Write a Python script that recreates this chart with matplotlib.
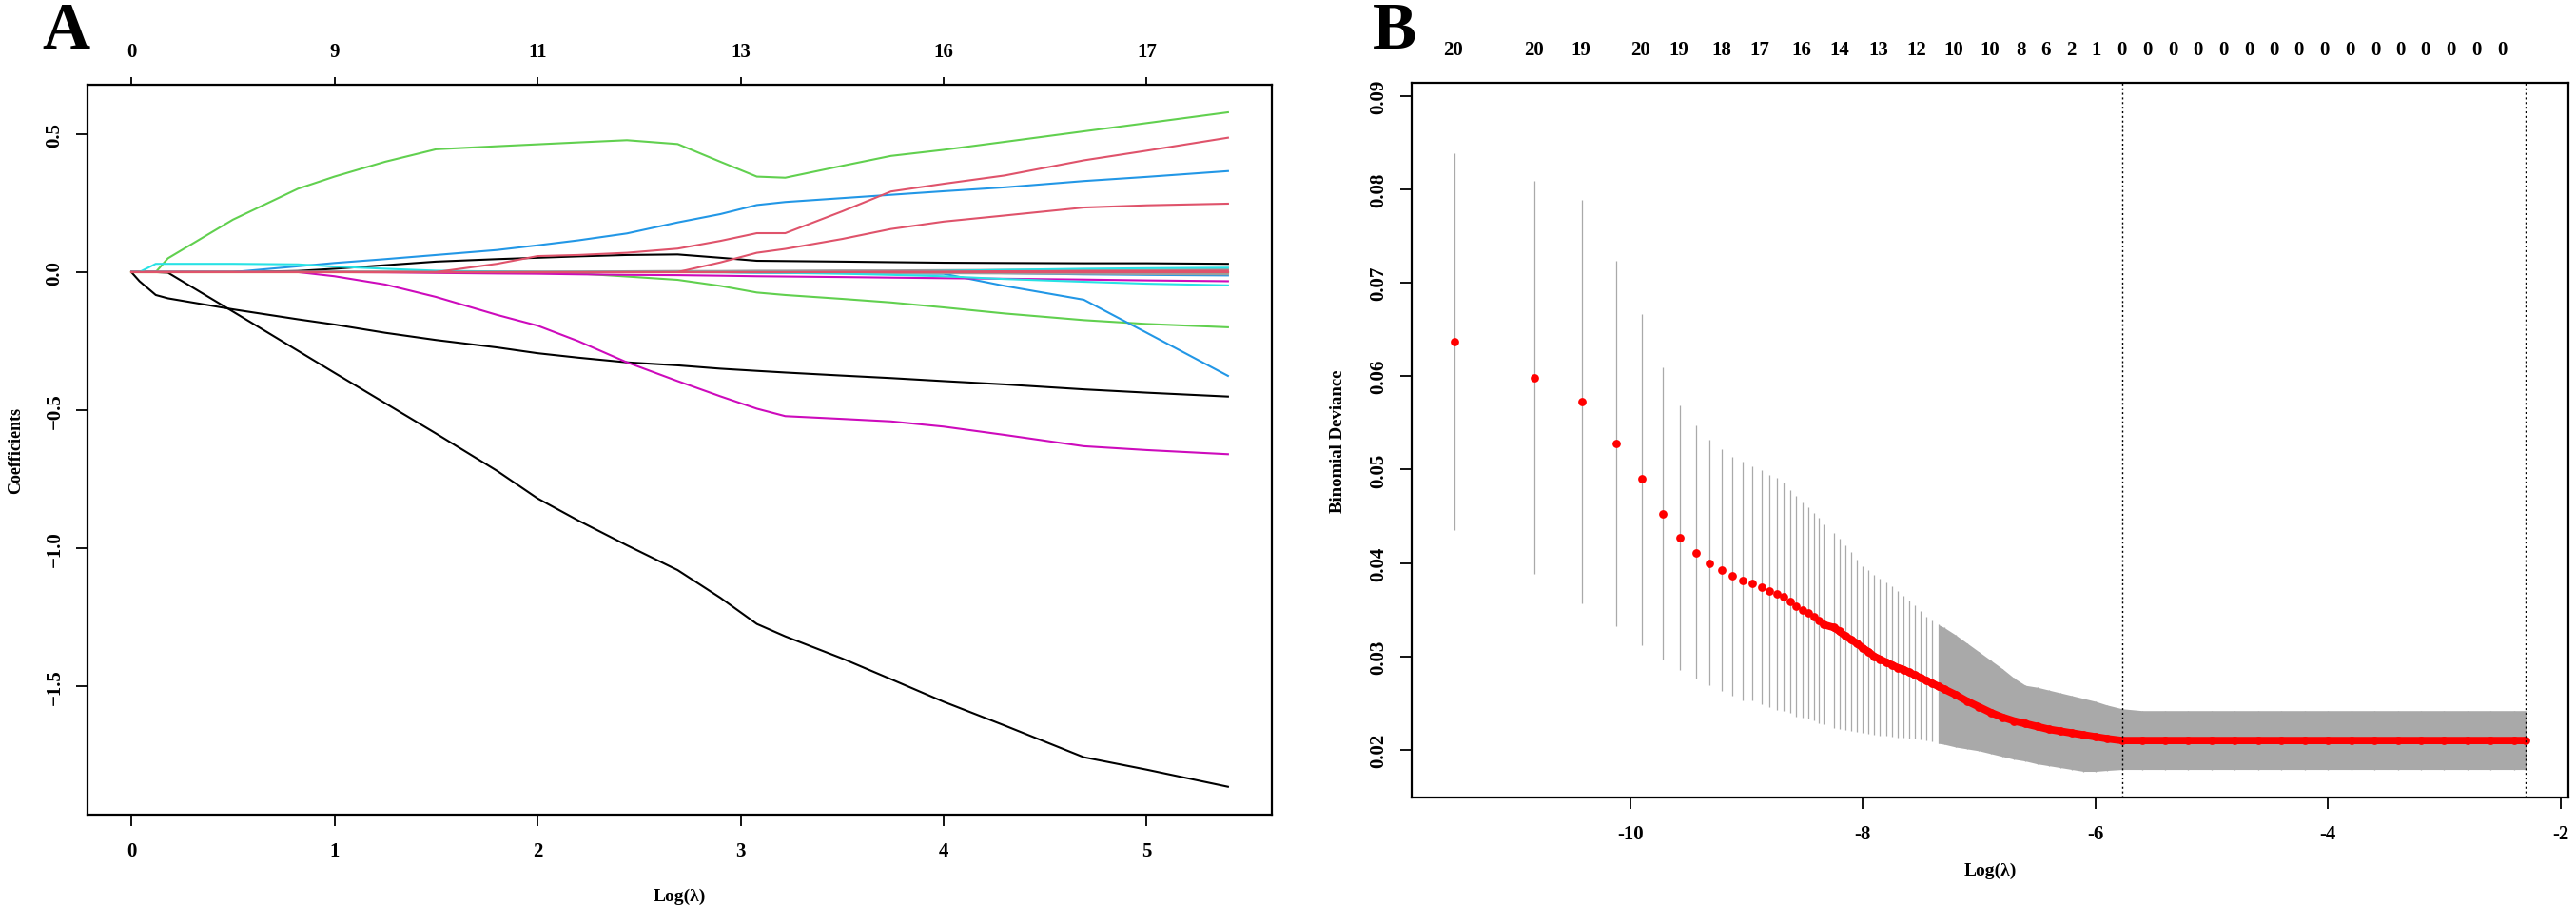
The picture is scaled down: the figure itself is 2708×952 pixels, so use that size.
import numpy as np
import matplotlib.pyplot as plt

plt.rcParams['font.family'] = ['Liberation Serif', 'DejaVu Serif']
plt.rcParams['font.weight'] = 'bold'

# R 4.x default palette
R_BLACK, R_RED, R_GREEN, R_BLUE = '#000000', '#DF536B', '#61D04F', '#2297E6'
R_CYAN, R_MAGENTA, R_YELLOW, R_GRAY = '#28E2E5', '#CD0BBC', '#F5C710', '#9E9E9E'

# ---------------- panel A : coefficient paths ----------------
log_lam = [0.0, 0.04, 0.12, 0.18, 0.5, 0.82, 1.0, 1.25, 1.5, 1.8, 2.0, 2.2,
           2.44, 2.69, 2.9, 3.08, 3.22, 3.5, 3.74, 4.0, 4.3, 4.69, 5.0, 5.4]

green_top = [0, 0, 0, 0.05, 0.19, 0.302, 0.346, 0.40, 0.445, 0.456, 0.463, 0.47,
             0.478, 0.464, 0.40, 0.346, 0.342, 0.385, 0.421, 0.443, 0.472, 0.51, 0.54, 0.579]
blue_top = [0, 0, 0, 0, 0, 0.021, 0.033, 0.047, 0.062, 0.08, 0.097, 0.115,
            0.14, 0.18, 0.21, 0.243, 0.254, 0.268, 0.28, 0.293, 0.307, 0.33, 0.345, 0.366]
red_a = [0, 0, 0, 0, 0, 0, 0, 0, 0, 0.03, 0.058, 0.062,
         0.07, 0.085, 0.113, 0.141, 0.141, 0.22, 0.292, 0.32, 0.35, 0.405, 0.44, 0.487]
red_b = [0, 0, 0, 0, 0, 0, 0, 0, 0, 0, 0, 0,
         0, 0, 0.035, 0.07, 0.084, 0.12, 0.156, 0.183, 0.205, 0.234, 0.242, 0.248]
black_top = [0, 0, 0, 0, 0, 0.004, 0.012, 0.025, 0.038, 0.047, 0.052, 0.057,
             0.062, 0.064, 0.052, 0.041, 0.040, 0.038, 0.036, 0.034, 0.033, 0.032, 0.032, 0.030]
green_low = [0, 0, 0, 0, 0, 0, 0, 0, 0, 0, 0, -0.005,
             -0.016, -0.028, -0.05, -0.074, -0.083, -0.097, -0.11, -0.128, -0.15, -0.174, -0.188, -0.20]
blue_low = [0, 0, 0, 0, 0, 0, 0, 0, 0, 0, 0, 0,
            0, 0, 0, -0.002, -0.003, -0.004, -0.005, -0.006, -0.05, -0.10, -0.22, -0.376]
black_mid = [0, -0.033, -0.083, -0.095, -0.135, -0.171, -0.19, -0.22, -0.246, -0.273, -0.294, -0.31,
             -0.327, -0.338, -0.35, -0.358, -0.364, -0.375, -0.384, -0.395, -0.407, -0.425, -0.437, -0.451]
magenta_big = [0, 0, 0, 0, 0, 0, -0.015, -0.045, -0.09, -0.155, -0.194, -0.25,
               -0.327, -0.395, -0.45, -0.495, -0.522, -0.532, -0.541, -0.56, -0.59, -0.631, -0.645, -0.660]
black_bottom = [0, 0, 0, -0.002, -0.143, -0.285, -0.365, -0.475, -0.585, -0.72, -0.82, -0.90,
                -0.99, -1.08, -1.18, -1.275, -1.32, -1.40, -1.475, -1.557, -1.643, -1.758, -1.803, -1.865]
cyan_a = [0, 0, 0.03, 0.03, 0.03, 0.028, 0.02, 0.012, 0.005, 0.002, 0, 0,
          0, 0, -0.001, -0.002, -0.003, -0.006, -0.01, -0.015, -0.025, -0.035, -0.042, -0.048]
cyan_b = [0, 0, 0, 0, 0, 0, 0, 0, 0, 0, 0, 0,
          0, 0, 0, 0, 0, 0, 0.001, 0.004, 0.008, 0.012, 0.014, 0.016]
magenta_small = [0, 0, 0, 0, 0, 0, 0, -0.001, -0.003, -0.005, -0.006, -0.008,
                 -0.01, -0.011, -0.013, -0.015, -0.016, -0.018, -0.02, -0.022, -0.024, -0.027, -0.03, -0.033]
gray_a = [0, 0, 0, 0, 0, 0, 0, 0, 0, 0, 0, 0.001,
          0.003, 0.004, 0.004, 0.005, 0.005, 0.006, 0.006, 0.007, 0.008, 0.009, 0.009, 0.010]
gray_b = [0, 0, 0, 0, 0, 0, 0, 0, 0, 0, 0, 0,
          0, 0, 0, -0.001, -0.002, -0.003, -0.004, -0.004, -0.005, -0.006, -0.007, -0.008]
blue_c = [0, 0, 0, 0, 0, 0, 0, 0, 0, 0, 0, 0,
          0, 0, 0, 0, 0, 0, 0, 0, -0.004, -0.008, -0.010, -0.012]
green_c = [0, 0, 0, 0, 0, 0, 0, 0, 0, 0, 0, 0,
           0, 0, 0, 0, 0, 0, 0, -0.001, -0.002, -0.002, -0.003, -0.003]
yellow_a = [0] * 24
yellow_b = [0] * 24
red_c = [0, 0, 0, 0, 0, 0, 0, 0, 0, 0, 0, 0,
         0, 0, 0, 0, 0, 0.001, 0.002, 0.002, 0.003, 0.004, 0.004, 0.005]
red_zero = [0] * 24

paths = [
    (black_bottom, R_BLACK), (black_mid, R_BLACK), (black_top, R_BLACK),
    (green_top, R_GREEN), (green_low, R_GREEN), (green_c, R_GREEN),
    (blue_top, R_BLUE), (blue_low, R_BLUE), (blue_c, R_BLUE),
    (magenta_big, R_MAGENTA), (magenta_small, R_MAGENTA),
    (yellow_a, R_YELLOW), (yellow_b, R_YELLOW),
    (gray_a, R_GRAY), (gray_b, R_GRAY),
    (cyan_a, R_CYAN), (cyan_b, R_CYAN),
    (red_a, R_RED), (red_b, R_RED), (red_c, R_RED), (red_zero, R_RED),
]
df_pos = [0, 1, 2, 3, 4, 5]
df_lab = ['0', '9', '11', '13', '16', '17']

# ---------------- panel B : cross-validation curve ----------------
cv_x = [-11.51, -10.82, -10.41, -10.12, -9.90, -9.72, -9.57, -9.43, -9.32, -9.21,
        -9.12, -9.03, -8.95, -8.87, -8.80, -8.74, -8.68, -8.62, -8.57, -8.52,
        -8.47, -8.42, -8.38, -8.335,
        -8.25, -8.20, -8.15, -8.10, -8.05, -8.00, -7.95, -7.90, -7.85, -7.80,
        -7.75, -7.70, -7.65, -7.60, -7.55, -7.50, -7.45, -7.40, -7.35, -7.30,
        -7.20, -7.10, -7.00, -6.90, -6.80, -6.70, -6.60, -6.50, -6.40, -6.30,
        -6.20, -6.10, -6.00, -5.90, -5.77,
        -5.60, -5.40, -5.20, -5.00, -4.80, -4.60, -4.40, -4.20, -4.00, -3.80,
        -3.60, -3.40, -3.20, -3.00, -2.80, -2.60, -2.40, -2.30]
cv_mean = [0.0637, 0.0598, 0.0573, 0.0528, 0.0490, 0.0453, 0.0427, 0.0411, 0.0400, 0.0392,
           0.0386, 0.0381, 0.0378, 0.0374, 0.0370, 0.0367, 0.0364, 0.0359, 0.0354, 0.0350,
           0.0347, 0.0343, 0.0338, 0.0334,
           0.0331, 0.0327, 0.0322, 0.0318, 0.0314, 0.0309, 0.0305, 0.0300, 0.0297, 0.0294,
           0.0291, 0.0288, 0.0286, 0.0283, 0.0280, 0.0277, 0.0274, 0.0271, 0.0268, 0.0265,
           0.0259, 0.0252, 0.0246, 0.0240, 0.0235, 0.0231, 0.0228, 0.0225, 0.0222, 0.0220,
           0.0218, 0.0216, 0.0214, 0.0212, 0.0210,
           0.0210, 0.0210, 0.0210, 0.0210, 0.0210, 0.0210, 0.0210, 0.0210, 0.0210, 0.0210,
           0.0210, 0.0210, 0.0210, 0.0210, 0.0210, 0.0210, 0.0210, 0.0210]
cv_up = [0.0839, 0.0809, 0.0789, 0.0724, 0.0666, 0.0609, 0.0569, 0.0547, 0.0532, 0.0522,
         0.0514, 0.0509, 0.0503, 0.0499, 0.0494, 0.0491, 0.0486, 0.0478, 0.0472, 0.0465,
         0.0460, 0.0454, 0.0448, 0.0441,
         0.0432, 0.0426, 0.0419, 0.0412, 0.0404, 0.0397, 0.0392, 0.0387, 0.0383, 0.0379,
         0.0375, 0.0370, 0.0365, 0.0360, 0.0355, 0.0349, 0.0343, 0.0338, 0.0334, 0.0331,
         0.0323, 0.0314, 0.0305, 0.0296, 0.0287, 0.0277, 0.0269, 0.0267, 0.0264, 0.0261,
         0.0258, 0.0255, 0.0252, 0.0248, 0.0244,
         0.0242, 0.0242, 0.0242, 0.0242, 0.0242, 0.0242, 0.0242, 0.0242, 0.0242, 0.0242,
         0.0242, 0.0242, 0.0242, 0.0242, 0.0242, 0.0242, 0.0242, 0.0242]
cv_lo = [0.0435, 0.0388, 0.0357, 0.0332, 0.0312, 0.0297, 0.0286, 0.0276, 0.0269, 0.0263,
         0.0258, 0.0253, 0.0253, 0.0249, 0.0246, 0.0243, 0.0242, 0.0240, 0.0236, 0.0235,
         0.0234, 0.0232, 0.0228, 0.0227,
         0.0223, 0.0222, 0.0221, 0.0220, 0.0219, 0.0218, 0.0217, 0.0216, 0.0215, 0.0215,
         0.0214, 0.0213, 0.0213, 0.0212, 0.0212, 0.0211, 0.0210, 0.0209, 0.0207, 0.0206,
         0.0203, 0.0201, 0.0199, 0.0196, 0.0193, 0.0190, 0.0188, 0.0185, 0.0183, 0.0181,
         0.0179, 0.0177, 0.0177, 0.0178, 0.0179,
         0.0179, 0.0179, 0.0179, 0.0179, 0.0179, 0.0179, 0.0179, 0.0179, 0.0179, 0.0179,
         0.0179, 0.0179, 0.0179, 0.0179, 0.0179, 0.0179, 0.0179, 0.0179]
lambda_min_log = -5.77
lambda_1se_log = -2.30

nz_pos = [-11.52, -10.83, -10.42, -9.91, -9.58, -9.21, -8.89, -8.53, -8.20, -7.86,
          -7.54, -7.22, -6.91, -6.64, -6.43, -6.21, -5.99,
          -5.77, -5.55, -5.33, -5.12, -4.90, -4.68, -4.46, -4.25, -4.03, -3.81,
          -3.59, -3.38, -3.16, -2.94, -2.72, -2.50]
nz_lab = ['20', '20', '19', '20', '19', '18', '17', '16', '14', '13',
          '12', '10', '10', '8', '6', '2', '1',
          '0', '0', '0', '0', '0', '0', '0', '0', '0', '0',
          '0', '0', '0', '0', '0', '0']

TICK_FS = 15

fig = plt.figure(figsize=(27.08, 9.53), dpi=100)

# ---- A ----
axA = fig.add_axes([92 / 2708, 96 / 953, (1337 - 92) / 2708, (857 - 90) / 953])
for ys, col in paths:
    axA.plot(log_lam, ys, color=col, lw=1.5)
axA.set_xlim(-0.216, 5.616)
axA.set_ylim(-1.966, 0.679)
axA.set_xticks([0, 1, 2, 3, 4, 5])
axA.set_yticks([-1.5, -1.0, -0.5, 0.0, 0.5])
axA.tick_params(axis='x', length=8.5, width=1.3, pad=12, labelsize=TICK_FS)
axA.tick_params(axis='y', length=8.5, width=1.3, pad=9, labelsize=TICK_FS)
for lbl in axA.get_yticklabels():
    lbl.set_rotation(90)
    lbl.set_va('center')
for sp in axA.spines.values():
    sp.set_linewidth(1.6)
axA.set_xlabel('Log(λ)', fontsize=14, fontweight='bold', labelpad=20)
axA.set_ylabel('Coefficients', fontsize=13, fontweight='bold', labelpad=16)
topA = axA.secondary_xaxis('top')
topA.set_xticks(df_pos, labels=df_lab)
topA.tick_params(length=6, width=1.3, pad=12, labelsize=TICK_FS)
fig.text(44 / 2708, 1 - 2 / 953, 'A', fontsize=50, fontweight='bold', va='top', ha='left')

# ---- B ----
axB = fig.add_axes([1484 / 2708, (953 - 839) / 953, (2700 - 1484) / 2708, (839 - 88) / 953])
x = np.array(cv_x)
m = np.array(cv_mean)
up = np.array(cv_up)
lo = np.array(cv_lo)
axB.vlines(x, lo, up, color='darkgrey', lw=0.9)
band = x >= -7.35
axB.fill_between(x[band], lo[band], up[band], color='darkgrey', lw=0)
dense = x >= -8.34
axB.plot(x[dense], m[dense], color='red', lw=5.6, solid_capstyle='round')
axB.plot(x, m, 'o', color='red', ms=6.3, mec='none')
axB.axvline(lambda_min_log, color='black', ls=(0, (1.5, 2)), lw=1)
axB.axvline(lambda_1se_log, color='black', ls=(0, (1.5, 2)), lw=1)
axB.set_xlim(-11.878, -1.932)
axB.set_ylim(0.0149, 0.0914)
axB.set_xticks([-10, -8, -6, -4, -2], labels=['-10', '-8', '-6', '-4', '-2'])
axB.set_yticks([0.02, 0.03, 0.04, 0.05, 0.06, 0.07, 0.08, 0.09])
axB.tick_params(axis='x', length=8.5, width=1.3, pad=12, labelsize=TICK_FS)
axB.tick_params(axis='y', length=8.5, width=1.3, pad=9, labelsize=TICK_FS)
for lbl in axB.get_yticklabels():
    lbl.set_rotation(90)
    lbl.set_va('center')
for sp in axB.spines.values():
    sp.set_linewidth(1.6)
axB.set_xlabel('Log(λ)', fontsize=14, fontweight='bold', labelpad=14)
axB.set_ylabel('Binomial Deviance', fontsize=13.5, fontweight='bold', labelpad=18)
topB = axB.secondary_xaxis('top')
topB.set_xticks(nz_pos, labels=nz_lab)
topB.tick_params(length=0, pad=18, labelsize=TICK_FS)
topB.spines['top'].set_visible(False)
fig.text(1443 / 2708, 1 - 2 / 953, 'B', fontsize=50, fontweight='bold', va='top', ha='left')

fig.savefig('out.png', dpi=100)
